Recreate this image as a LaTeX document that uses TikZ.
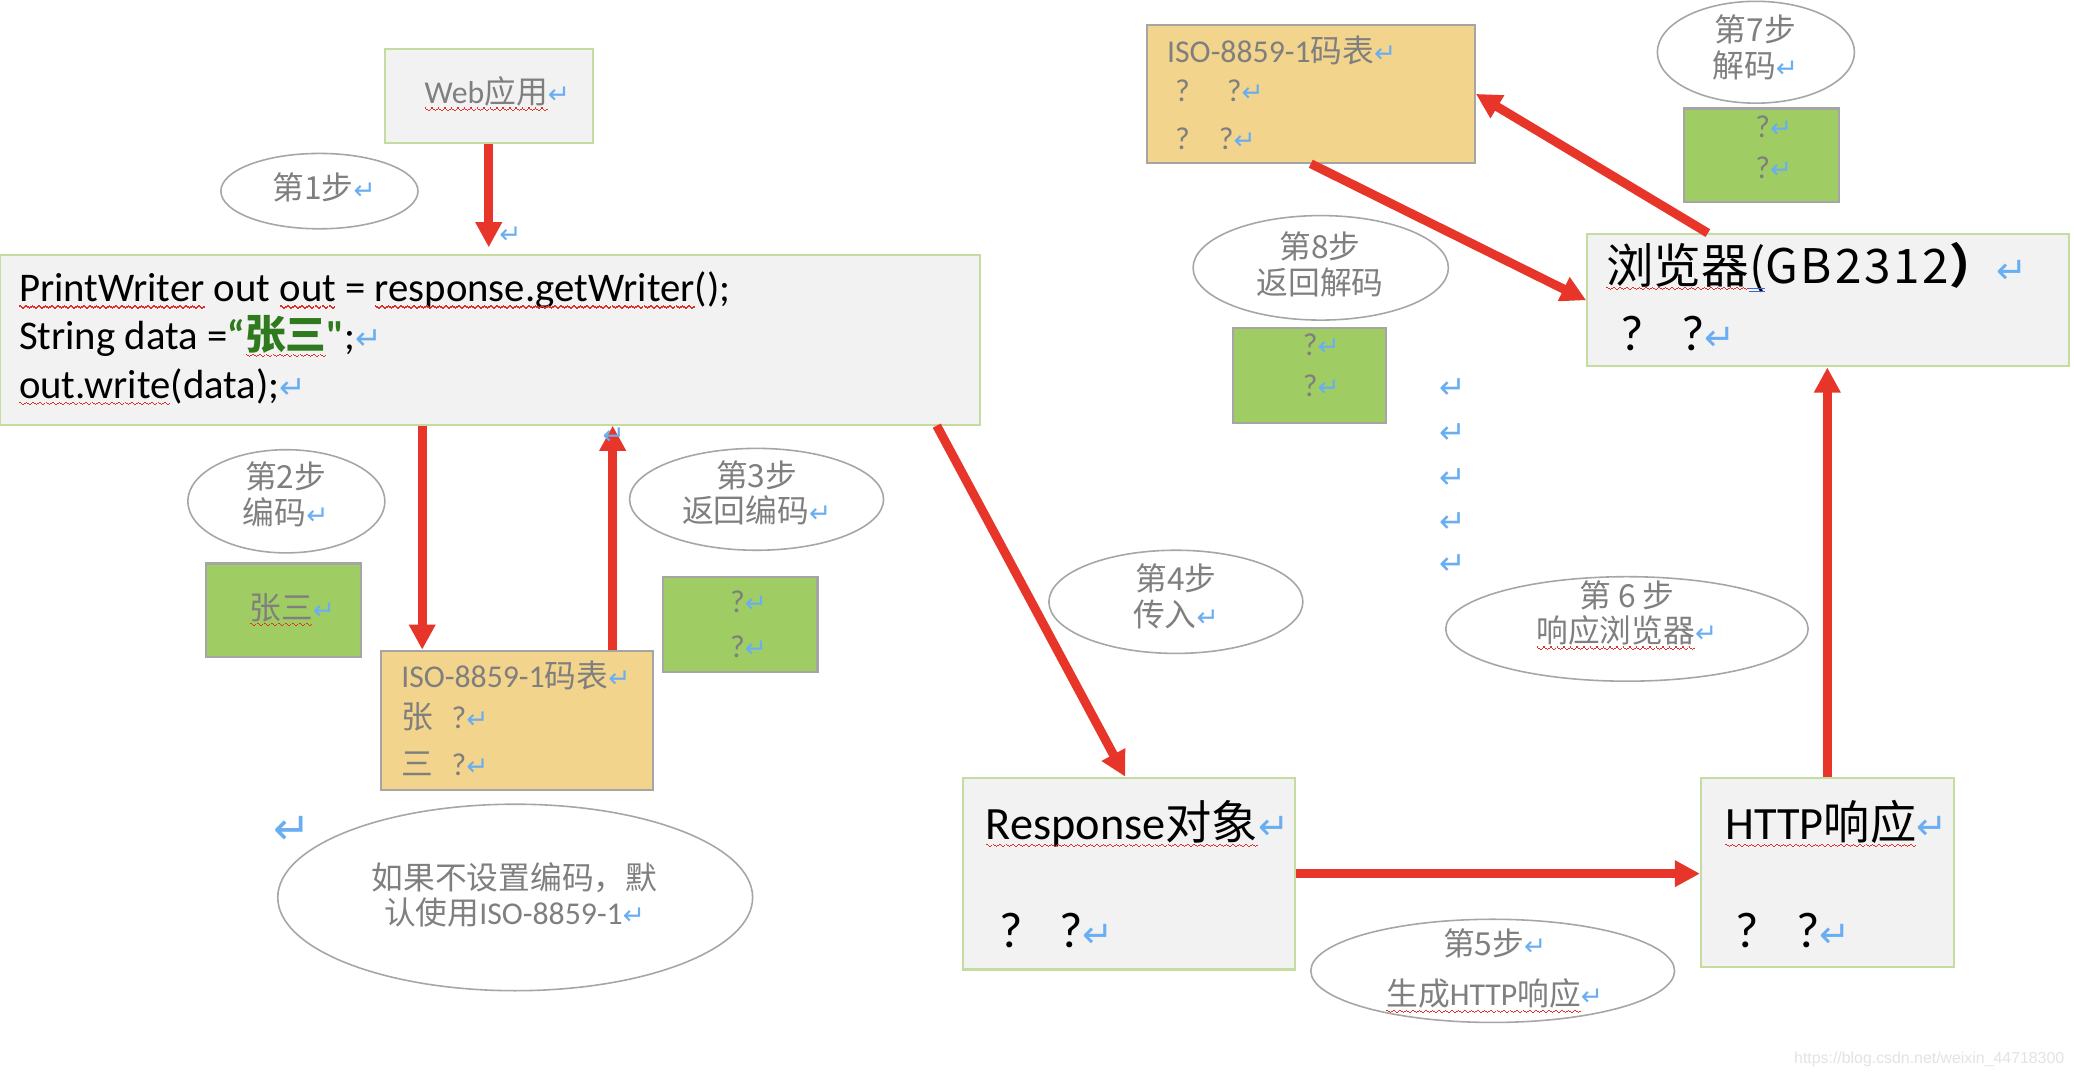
\documentclass[tikz,border=0pt]{standalone}
\usepackage{fontspec}
\setmainfont{Carlito}
\newfontfamily\carl{Carlito}
\newfontfamily\cjk{Noto Sans CJK SC}
\newfontfamily\gbfont[LetterSpace=6]{Noto Sans CJK SC}
\newfontfamily\sym{DejaVu Sans}
\newfontfamily\wm{Liberation Sans}
\usetikzlibrary{arrows.meta,shapes.geometric}
\definecolor{boxgray}{HTML}{F2F2F2}
\definecolor{boxedge}{HTML}{C4DCA0}
\definecolor{greenfill}{HTML}{A0CD63}
\definecolor{edgegray}{HTML}{A5A5A5}
\definecolor{orangefill}{HTML}{F2D48C}
\definecolor{arrowred}{HTML}{E8352A}
\definecolor{txtgray}{HTML}{7F7F7F}
\definecolor{retblue}{HTML}{6AAEF2}
\definecolor{codegreen}{HTML}{2F7A1F}
\definecolor{wavered}{HTML}{E0302A}
\definecolor{ellipseedge}{HTML}{A6A6A6}
\definecolor{ulblue}{HTML}{3A66D8}
\definecolor{wmgray}{HTML}{E3E3E3}
\newsavebox\wavebox
\newsavebox\sqbox
\newcommand\sq[1]{\sbox\sqbox{#1}\rlap{\usebox\sqbox}\hbox to \wd\sqbox{\xleaders\copy\wavebox\hfil}}
\newcommand\dul[1]{\sbox\sqbox{#1}\rlap{\usebox\sqbox}\rlap{\textcolor{ulblue}{\rule[-2.4pt]{\wd\sqbox}{0.45pt}}}\rlap{\textcolor{ulblue}{\rule[-3.5pt]{\wd\sqbox}{0.45pt}}}\hspace{\wd\sqbox}}
\newcommand\ret[1][10]{{\sym\color{retblue}\fontsize{#1}{#1}\selectfont ↵}}
\tikzset{
  grbox/.style={rectangle, draw=boxedge, fill=boxgray, line width=0.8pt, inner sep=0pt},
  greenbox/.style={rectangle, draw=edgegray, fill=greenfill, line width=0.8pt, inner sep=0pt},
  orbox/.style={rectangle, draw=edgegray, fill=orangefill, line width=0.8pt, inner sep=0pt},
  stepell/.style={ellipse, draw=ellipseedge, line width=0.6pt, inner sep=0pt},
  gtxt/.style={text=txtgray, font=\cjk\fontsize{12}{13.5}\selectfont, inner sep=0pt, align=center},
  btxt/.style={text=black, inner sep=0pt},
  rettxt/.style={inner sep=0pt},
  redarrow/.style={draw=arrowred, line width=3.4pt, -{Triangle[width=9.5pt,length=9.5pt]}},
}
\begin{document}
\sbox\wavebox{\textcolor{wavered}{\rule[-1.9pt]{0.6pt}{0.5pt}\rule[-2.3pt]{0.6pt}{0.5pt}\rule[-2.7pt]{0.6pt}{0.5pt}\rule[-2.3pt]{0.6pt}{0.5pt}}}%
\begin{tikzpicture}[x=0.5pt,y=-0.5pt]
\fill[white] (0,0) rectangle (1568,817);
\useasboundingbox (0,0) rectangle (1568,817);

% boxes
\node[grbox, minimum width=78.5pt, minimum height=35.5pt] (web) at (369.5,72.5) {};
\node[grbox, minimum width=370.5pt, minimum height=64pt] (code) at (370.5,257) {};
\node[greenbox, minimum width=58.5pt, minimum height=35.5pt] (zs) at (214.5,461.5) {};
\node[orbox, minimum width=103pt, minimum height=52.5pt] (iso1) at (391,544.5) {};
\node[greenbox, minimum width=58.5pt, minimum height=36pt] (q1) at (559.5,472) {};
\node[grbox, minimum width=125.5pt, minimum height=72.5pt] (resp) at (853.5,660.5) {};
\node[grbox, minimum width=95.5pt, minimum height=71.5pt] (http) at (1381.5,659.5) {};
\node[grbox, minimum width=182pt, minimum height=50pt] (browser) at (1382,227) {};
\node[orbox, minimum width=124pt, minimum height=52pt] (iso2) at (991,71) {};
\node[greenbox, minimum width=58.5pt, minimum height=35.5pt] (q3) at (1331.5,117.5) {};
\node[greenbox, minimum width=58pt, minimum height=36pt] (q4) at (990,284) {};

% ellipses
\node[stepell, minimum width=74.5pt, minimum height=28.5pt] (e1) at (241.5,144.5) {};
\node[stepell, minimum width=74.5pt, minimum height=39pt] (e2) at (216.5,379) {};
\node[stepell, minimum width=96pt, minimum height=38.5pt] (e3) at (572,377.5) {};
\node[stepell, minimum width=179.5pt, minimum height=70.5pt] (enote) at (389.5,678.5) {};
\node[stepell, minimum width=96pt, minimum height=39pt] (e4) at (889,455) {};
\node[stepell, minimum width=137.5pt, minimum height=39pt] (e5) at (1128.5,734) {};
\node[stepell, minimum width=137pt, minimum height=39.5pt] (e6) at (1230,475.5) {};
\node[stepell, minimum width=74.5pt, minimum height=38.5pt] (e7) at (1327.5,39.5) {};
\node[stepell, minimum width=96.5pt, minimum height=39.5pt] (e8) at (998.5,202.5) {};

% arrows
\coordinate (a1e) at (369.5,187);
\draw[redarrow] (web.south) -- (a1e);
\draw[redarrow] ([xshift=160pt]code.south west) -- ([xshift=16pt]iso1.north west);
\draw[redarrow] ([xshift=88pt]iso1.north west) -- ([xshift=232pt]code.south west);
\draw[redarrow] ([xshift=354.5pt]code.south west) -- ([xshift=61.75pt]resp.north west);
\draw[redarrow] (resp.east) -- (resp.east -| http.west);
\draw[redarrow] (http.north) -- (http.north |- browser.south);
\draw[redarrow] ([xshift=46pt]browser.north west) -- (iso2.east);
\draw[redarrow] (iso2.south) -- (browser.west);

% gray texts
\node[gtxt] (webt) at (376,71) {\sq{{\rmfamily Web}应用}\ret};
\node[gtxt] (s1t) at (245,142) {第1步\ret};
\node[gtxt] (s2t) at (216,373.5) {第2步\\编码\ret};
\node[gtxt] (zst) at (221,461) {\sq{张三}\ret};
\node[gtxt, anchor=base west] (i1a) at (303,520) {{\rmfamily ISO-8859-1}码表\ret};
\node[gtxt, anchor=base west] (i1b) at (303,551) {张\hspace{7pt}{\rmfamily ?}\ret};
\node[gtxt, anchor=base west] (i1c) at (303,586) {三\hspace{7pt}{\rmfamily ?}\ret};
\node[gtxt] (s3t) at (572,372.5) {第3步\\返回编码\ret};
\node[gtxt] (q1a) at (566,455) {{\rmfamily ?}\ret};
\node[gtxt] (q1b) at (566,489) {{\rmfamily ?}\ret};
\node[gtxt] (notet) at (389,676.5) {如果不设置编码，默\\认使用{\rmfamily ISO-8859-1}\ret};
\node[gtxt] (s4t) at (889,451) {第4步\\传入\ret};
\node[gtxt, font=\cjk\fontsize{12}{19}\selectfont] (s5t) at (1130,734) {第5步\ret\\\sq{生成{\rmfamily HTTP}响应}\ret};
\node[gtxt] (s6t) at (1230,465) {第 6 步\\\sq{响应浏览器}\ret};
\node[gtxt] (s7t) at (1327,36) {第7步\\解码\ret};
\node[gtxt] (s8t) at (998,200) {第8步\\返回解码};
\node[gtxt, anchor=base west] (i2a) at (882,47) {{\rmfamily ISO-8859-1}码表\ret};
\node[gtxt, anchor=base west] (i2b) at (888,77) {{\rmfamily ?\hspace{14pt}?}\ret};
\node[gtxt, anchor=base west] (i2c) at (888,113) {{\rmfamily ?\hspace{11pt}?}\ret};
\node[gtxt] (q3a) at (1341,96) {{\rmfamily ?}\ret};
\node[gtxt] (q3b) at (1341,127) {{\rmfamily ?}\ret};
\node[gtxt] (q4a) at (999,261) {{\rmfamily ?}\ret};
\node[gtxt] (q4b) at (999,292) {{\rmfamily ?}\ret};

% black texts
\node[btxt, anchor=base west, align=left, font=\fontsize{15.4}{18.25}\selectfont] (codet) at (14,301)
  {\sq{PrintWriter} out \sq{out} = \sq{response.getWriter}();\\
   String data =\textcolor{codegreen}{\bfseries “\sq{{\cjk 张三}}{\carl"}};\ret[12]\\
   \sq{out.write}(data);\ret[12]};
\node[btxt, anchor=base west, font=\fontsize{17.5}{20}\selectfont] (respt) at (745,635) {\sq{Response{\cjk 对象}}\ret[14]};
\node[btxt, anchor=base west, font=\fontsize{19}{20}\selectfont] (respq) at (755,716) {?\hspace{14pt}?\ret[14]};
\node[btxt, anchor=base west, font=\fontsize{17.5}{20}\selectfont] (httpt) at (1304,635) {\sq{HTTP{\cjk 响应}}\ret[14]};
\node[btxt, anchor=base west, font=\fontsize{19}{20}\selectfont] (httpq) at (1312,716) {?\hspace{14pt}?\ret[14]};
\node[btxt, anchor=base west, font=\fontsize{18}{20}\selectfont] (brt) at (1214,214)
  {\sq{{\cjk 浏览器}}\dul{{\cjk (}}{\gbfont GB2312}{\cjk\bfseries ）}\ret[14]};
\node[btxt, anchor=base west, font=\fontsize{19}{20}\selectfont] (brq) at (1225,265) {?\hspace{14pt}?\ret[14]};

% stray return marks
\node[rettxt] (r1) at (386,178) {\ret[10]};
\node[rettxt] (r2) at (464,330) {\ret[10]};
\node[rettxt] (r3) at (221,628) {\ret[17]};
\node[rettxt] (c1) at (1098,294) {\ret[12]};
\node[rettxt] (c2) at (1098,328) {\ret[12]};
\node[rettxt] (c3) at (1098,362) {\ret[12]};
\node[rettxt] (c4) at (1098,395) {\ret[12]};
\node[rettxt] (c5) at (1098,427) {\ret[12]};

% watermark
\node[inner sep=0pt, anchor=east, text=wmgray, font=\wm\fontsize{6}{6}\selectfont] (wmk) at (1561,801) {https://blog.csdn.net/weixin\_44718300};
\end{tikzpicture}
\end{document}
